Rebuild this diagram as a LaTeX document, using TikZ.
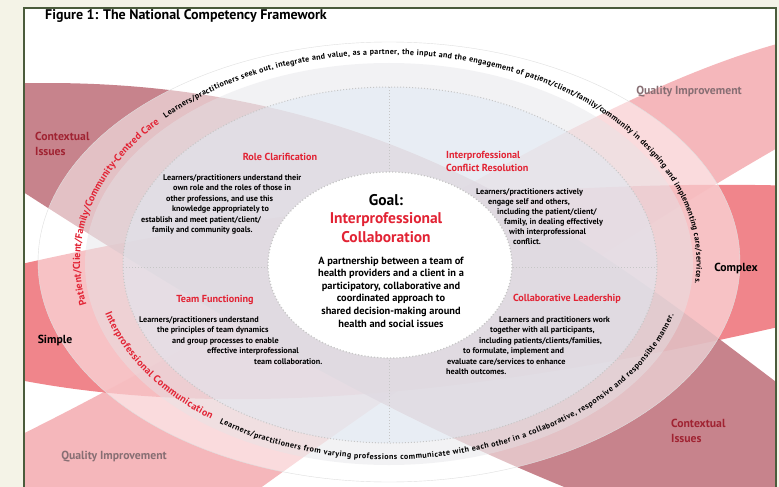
\documentclass[tikz,border=0pt]{standalone}
\usepackage{fontspec}
\setmainfont{PT Sans}
\usetikzlibrary{decorations.text}

\definecolor{ctxred}{RGB}{190,110,120}
\definecolor{cplxred}{RGB}{238,115,122}
\definecolor{qipink}{RGB}{242,160,165}
\definecolor{headred}{RGB}{226,35,52}
\definecolor{labelred}{RGB}{160,35,50}
\definecolor{qigray}{RGB}{135,110,115}
\definecolor{framegreen}{RGB}{75,92,60}
\definecolor{pagecream}{RGB}{244,243,231}
\definecolor{ringgray}{RGB}{228,228,232}
\definecolor{coreblue}{RGB}{224,234,244}

\tikzset{
  heading/.style={text=headred, font=\bfseries\fontsize{10.2}{13}\selectfont, inner sep=0pt},
  body/.style={font=\bfseries\fontsize{8.2}{10.5}\selectfont, align=left, inner sep=0pt, anchor=north west},
  outlabel/.style={font=\bfseries\fontsize{11.7}{14.5}\selectfont, inner sep=0pt},
  quadline/.style={gray!45, dotted, line width=1pt}
}

\begin{document}
\begin{tikzpicture}[x=1pt, y=1pt]
        % page and frame
        \fill[pagecream] (0,0) rectangle (779,-487);
        \useasboundingbox (0,0) rectangle (779,-487);
        \fill[white] (24,-8) rectangle (776,-495);

        % the three lenses
        \begin{scope}
            \clip (25,-9) rectangle (775,-487);
            \fill[qipink, fill opacity=.75] (0,-445) .. controls (300,-300) and (580,-90) .. (800,-38)
                -- (800,-135) .. controls (650,-220) and (450,-350) .. (230,-510) -- (0,-510) -- cycle;
            \fill[cplxred, fill opacity=.87] (0,-269) .. controls (250,-210) and (550,-178) .. (800,-186)
                -- (800,-322) .. controls (550,-380) and (250,-430) .. (0,-376) -- cycle;
            \fill[ctxred, fill opacity=.85] (0,-84) .. controls (390,-68) and (600,-250) .. (800,-400)
                -- (800,-520) -- (650,-520) .. controls (400,-430) and (190,-300) .. (0,-177) -- cycle;
        \end{scope}

        % rings
        \fill[white, fill opacity=.5] (389,-262) ellipse[x radius=351, y radius=220];
        \draw[gray!25] (389,-262) ellipse[x radius=351, y radius=220];
        \fill[ringgray, fill opacity=.45] (389,-264) ellipse[x radius=304, y radius=201];
        \fill[coreblue, fill opacity=.5] (390,-265) ellipse[x radius=267, y radius=178];
        \draw[quadline] (390,-265) ellipse[x radius=267, y radius=178];

        % quadrants
        \draw[quadline] (389,-87) -- (389,-443);
        \draw[quadline] (123,-267) -- (657,-267);

        % goal
        \filldraw[fill=white, draw=gray!45, dotted, line width=1.2pt] (390,-265) ellipse[x radius=122, y radius=93];

        % text on the rings
        \path[decorate, decoration={text along path, raise=-3pt, text align={fit to path}, text color=headred,
            text={|\bfseries\fontsize{10}{11}\selectfont|Patient/Client/Family/Community-Centred Care}}]
            (388,-262) ++(192:311 and 210) arc[start angle=192, end angle=137.8, x radius=311, y radius=210];
        \path[decorate, decoration={text along path, raise=-2.5pt, text align={fit to path},
            text={|\bfseries\fontsize{8}{9}\selectfont|Learners/practitioners seek out, integrate and value, as a partner, the input and the engagement of patient/client/family/community in designing and implementing care/services.}}]
            (388,-262) ++(136:311 and 210) arc[start angle=136, end angle=-6, x radius=311, y radius=210];
        \path[decorate, decoration={text along path, raise=-3pt, text align={fit to path}, text color=headred,
            text={|\bfseries\fontsize{10}{11}\selectfont|Interprofessional Communication}}]
            (390,-262) ++(195:292 and 195) arc[start angle=195, end angle=232.5, x radius=292, y radius=195];
        \path[decorate, decoration={text along path, raise=-2.5pt, text align={fit to path},
            text={|\bfseries\fontsize{8}{9}\selectfont|Learners/practitioners from varying professions communicate with each other in a collaborative, responsive and responsible manner.}}]
            (390,-262) ++(234.5:292 and 195) arc[start angle=234.5, end angle=344.5, x radius=292, y radius=195];

        % frame border
        \draw[framegreen, line width=1.6pt] (24,-495) -- (24,-8) -- (776,-8) -- (776,-495);

        % title
        \node[anchor=west, inner sep=0pt, font=\bfseries\fontsize{14}{16}\selectfont] (title) at (45,-16) {Figure 1: The National Competency Framework};

        % centre
        \node[inner sep=0pt, font=\bfseries\fontsize{15.5}{19}\selectfont] (goal) at (386,-200) {Goal:};
        \node[inner sep=0pt, align=center, text=headred, font=\bfseries\fontsize{15.5}{19}\selectfont] (ipc) at (386,-228) {Interprofessional\\Collaboration};
        \node[inner sep=0pt, align=center, font=\bfseries\fontsize{10.4}{12.6}\selectfont] (partner) at (391,-292) {A partnership between a team of\\health providers and a client in a\\participatory, collaborative and\\coordinated approach to\\shared decision-making around\\health and social issues};

        % quadrant headings
        \node[heading] (rolehead) at (280,-157) {Role Clarification};
        \node[heading, align=left, anchor=north west] (conflicthead) at (446,-151) {Interprofessional\\Conflict Resolution};
        \node[heading] (teamhead) at (215,-300) {Team Functioning};
        \node[heading] (leadhead) at (567,-299) {Collaborative Leadership};

        % quadrant texts
        \node[body] (roletext) at (141,-174) {\hspace*{22pt}Learners/practitioners understand their\\
            \hspace*{32pt}own role and the roles of those in\\
            \hspace*{25pt}other professions, and use this\\
            \hspace*{31pt}knowledge appropriately to\\
            establish and meet patient/client/\\
            \hspace*{11pt}family and community goals.};
        \node[body, font=\bfseries\fontsize{8.2}{10}\selectfont] (conflicttext) at (476,-188) {Learners/practitioners actively\\
            \hspace*{12pt}engage self and others,\\
            \hspace*{21pt}including the patient/client/\\
            \hspace*{28pt}family, in dealing effectively\\
            \hspace*{33pt}with interprofessional\\
            \hspace*{37pt}conflict.};
        \node[body] (teamtext) at (139,-316) {Learners/practitioners understand\\
            \hspace*{18pt}the principles of team dynamics\\
            \hspace*{33pt}and group processes to enable\\
            \hspace*{68pt}effective interprofessional\\
            \hspace*{115pt}team collaboration.};
        \node[body] (leadtext) at (446,-316) {\hspace*{53pt}Learners and practitioners work\\
            \hspace*{44pt}together with all participants,\\
            \hspace*{33pt}including patients/clients/families,\\
            \hspace*{17pt}to formulate, implement and\\
            \hspace*{1pt}evaluate care/services to enhance\\
            health outcomes.};

        % outer labels
        \node[outlabel, text=labelred, align=left, anchor=west] (ctxtl) at (35,-144) {Contextual\\Issues};
        \node[outlabel, text=labelred, align=left, anchor=west] (ctxbr) at (671,-431) {Contextual\\Issues};
        \node[outlabel, text=qigray] (qitr) at (689,-92) {Quality Improvement};
        \node[outlabel, text=qigray] (qibl) at (114,-457) {Quality Improvement};
        \node[outlabel] (cplx) at (736,-268) {Complex};
        \node[outlabel] (simple) at (55,-340) {Simple};
    \end{tikzpicture}
\end{document}
